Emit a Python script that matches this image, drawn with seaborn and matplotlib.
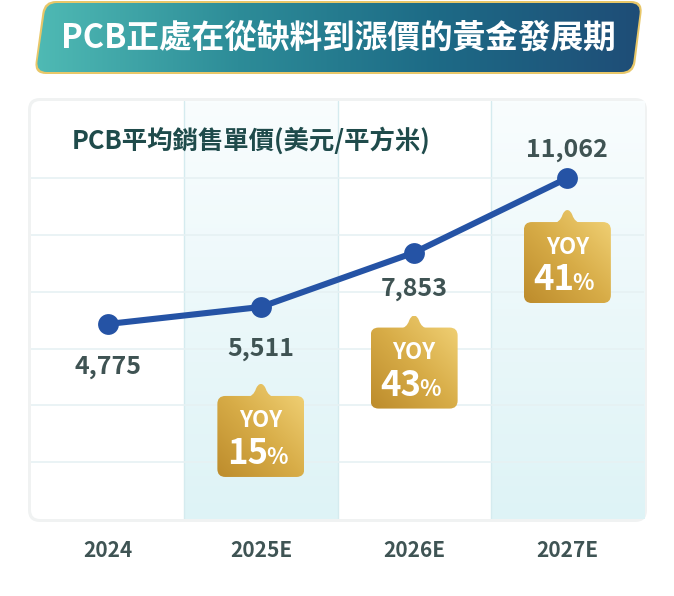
import numpy as np
import pandas as pd
import matplotlib
matplotlib.use('Agg')
import matplotlib.pyplot as plt
import seaborn as sns
from matplotlib.patches import PathPatch
from matplotlib.path import Path
from matplotlib.colors import LinearSegmentedColormap

# data
title = 'PCB正處在從缺料到漲價的黃金發展期'
subtitle = 'PCB平均銷售單價(美元/平方米)'
years = ['2024', '2025E', '2026E', '2027E']
prices = [4775, 5511, 7853, 11062]
yoy = [None, 15, 43, 41]

# layout (pixels)
W, H = 674, 596
label_offsets = [-43, -42, -36, 28]   # value label offset from point
badge_gaps = [None, 89, 75, 44]       # gap from point to badge top

sns.set_theme(style='white')
plt.rcParams['font.family'] = ['Noto Sans CJK TC', 'DejaVu Sans']

fig = plt.figure(figsize=(W / 100, H / 100), dpi=100)


def round_poly(pts, r):
    # polygon with rounded corners
    verts, codes = [], []
    n = len(pts)
    pts = [np.array(p, float) for p in pts]
    for i in range(n):
        p0, p1, p2 = pts[i - 1], pts[i], pts[(i + 1) % n]
        a = p1 + (p0 - p1) / np.linalg.norm(p0 - p1) * r
        b = p1 + (p2 - p1) / np.linalg.norm(p2 - p1) * r
        verts += [a, p1, b]
        codes += [Path.MOVETO if i == 0 else Path.LINETO, Path.CURVE3, Path.CURVE3]
    verts.append(verts[0])
    codes.append(Path.CLOSEPOLY)
    return Path(verts, codes)


def gradient_fill(axis, path, extent, cmap, direction='x', z=1):
    patch = PathPatch(path, fc='none', ec='none')
    axis.add_patch(patch)
    if direction == 'x':
        g = np.linspace(0, 1, 256)[None, :]
    else:
        xx, yy = np.meshgrid(np.linspace(0, 1, 64), np.linspace(0, 1, 64))
        g = (xx + (1 - yy)) / 2
    im = axis.imshow(g, extent=extent, cmap=cmap, aspect='auto', origin='upper',
                     interpolation='bilinear', zorder=z)
    im.set_clip_path(patch)


# background layer
bg = fig.add_axes([0, 0, 1, 1], zorder=0)
bg.set_xlim(0, W)
bg.set_ylim(H, 0)
bg.axis('off')

# panel with soft border
shadow = round_poly([(28, 98), (647, 98), (647, 522), (28, 522)], 12)
bg.add_patch(PathPatch(shadow, fc='#f0f2f2', ec='none', zorder=1))
panel = round_poly([(31, 101), (644, 101), (644, 519), (31, 519)], 9)
bg.add_patch(PathPatch(panel, fc='white', ec='none', zorder=2))

# title banner
banner_pts = [(46, 3), (641, 3), (632, 72), (36, 72)]
glow = round_poly([(44, 1), (643, 1), (634, 74), (34, 74)], 12)
bg.add_patch(PathPatch(glow, fc='#e8c769', ec='none', zorder=3))
banner = round_poly(banner_pts, 11)
banner_cmap = LinearSegmentedColormap.from_list('banner', ['#4fbab4', '#2d8c98', '#1d6a86', '#1f4d77'])
gradient_fill(bg, banner, (36, 641, 72, 3), banner_cmap, 'x', z=4)
bg.text(338, 38, title, color='white', fontsize=23.5, fontweight='bold',
        ha='center', va='center', zorder=5)

# main chart
ax = fig.add_axes([31 / W, (H - 519) / H, 613 / W, 418 / H], zorder=1)
ax.set_facecolor('none')
lo, hi = -3620, 14380
step = 2446

df = pd.DataFrame({'year': years, 'price': prices})

col_cmap = LinearSegmentedColormap.from_list('col', ['#f9fdfe', '#def3f6'])
for i in range(len(years)):
    if i % 2 == 1:
        ax.imshow(np.linspace(0, 1, 128)[:, None], extent=(i - 0.5, i + 0.5, lo, hi),
                  cmap=col_cmap, aspect='auto', origin='upper', zorder=0)
for i in range(len(years) - 1):
    ax.axvline(i + 0.5, color='#d5ebef', lw=1, zorder=0.5)
for k in range(1, 7):
    ax.axhline(lo + k * step, color='#e6f1f3', lw=1.2, zorder=0.6)

sns.lineplot(data=df, x='year', y='price', sort=False, color='#2553a5', lw=4.4,
             marker='o', markersize=15, markeredgewidth=0, ax=ax, zorder=3)

ax.set_xlim(-0.5, len(years) - 0.5)
ax.set_ylim(lo, hi)
ax.set_xlabel('')
ax.set_ylabel('')
ax.set_yticks([])
ax.set_xticks(range(len(years)))
ax.set_xticklabels(years, fontsize=15, fontweight='bold', color='#3f5454')
ax.tick_params(axis='x', length=0, pad=15)
for s in ax.spines.values():
    s.set_visible(False)

for i, v in enumerate(prices):
    ax.annotate(f'{v:,}', (i, v), xytext=(0, label_offsets[i]), textcoords='offset pixels',
                ha='center', va='center', fontsize=18, fontweight='bold', color='#3f5353', zorder=4)

ax.text(41 / 613, 1 - 40 / 418, subtitle, transform=ax.transAxes, fontsize=18.3,
        fontweight='bold', color='#1f4b4b', ha='left', va='center')

# badges on top layer
fg = fig.add_axes([0, 0, 1, 1], zorder=3)
fg.set_xlim(0, W)
fg.set_ylim(H, 0)
fg.axis('off')
fg.patch.set_alpha(0)

badge_cmap = LinearSegmentedColormap.from_list('gold', ['#bd8c2c', '#d8ad48', '#f2d378'])
bw, bh, tip = 87, 81, 12
for i, pct in enumerate(yoy):
    if pct is None:
        continue
    px, py = ax.transData.transform((i, prices[i]))
    cx = px
    yt = (H - py) + badge_gaps[i]
    rect = round_poly([(cx - bw / 2, yt), (cx + bw / 2, yt), (cx + bw / 2, yt + bh), (cx - bw / 2, yt + bh)], 8)
    gradient_fill(fg, rect, (cx - bw / 2, cx + bw / 2, yt + bh, yt - tip), badge_cmap, 'diag', z=2)
    tab = Path([(cx - 15, yt + 2), (cx - 7, yt), (cx - 5, yt - 7), (cx - 3, yt - tip), (cx, yt - tip),
                (cx + 3, yt - tip), (cx + 5, yt - 7), (cx + 7, yt), (cx + 15, yt + 2), (cx - 15, yt + 2)],
               [Path.MOVETO, Path.CURVE3, Path.CURVE3, Path.CURVE3, Path.CURVE3,
                Path.CURVE3, Path.CURVE3, Path.CURVE3, Path.CURVE3, Path.CLOSEPOLY])
    gradient_fill(fg, tab, (cx - bw / 2, cx + bw / 2, yt + bh, yt - tip), badge_cmap, 'diag', z=2)
    fg.text(cx, yt + 25, 'YOY', color='white', fontsize=16, fontweight='heavy',
            ha='center', va='center', zorder=3)
    fg.text(cx + 7, yt + 68, str(pct), color='white', fontsize=25, fontweight='heavy',
            ha='right', va='baseline', zorder=3)
    fg.text(cx + 5, yt + 68, '%', color='white', fontsize=16, fontweight='heavy',
            ha='left', va='baseline', zorder=3)

fig.savefig('out.png', dpi=100)
